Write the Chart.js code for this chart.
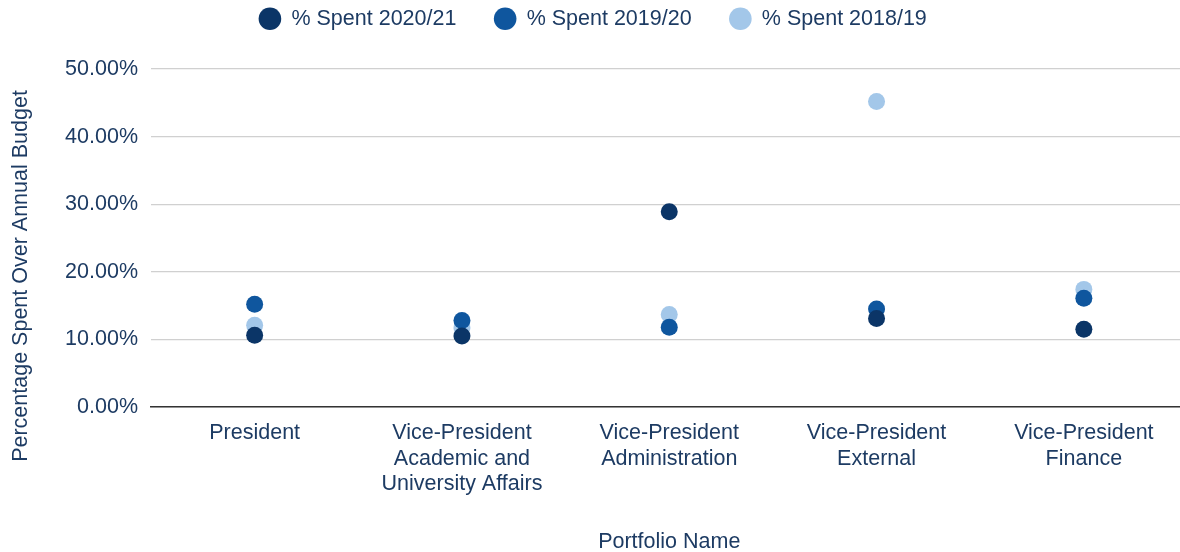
<!DOCTYPE html>
<html>
<head>
<meta charset="utf-8">
<script src="https://cdn.jsdelivr.net/npm/chart.js@4/dist/chart.umd.min.js"></script>
<style>
  html, body { margin: 0; padding: 0; background: #fff; overflow: hidden; }
  #wrap { width: 1196px; height: 552px; }
</style>
</head>
<body>
<div id="wrap"><canvas id="chart"></canvas></div>
<script>
const portfolios = [
  'President',
  ['Vice-President', 'Academic and', 'University Affairs'],
  ['Vice-President', 'Administration'],
  ['Vice-President', 'External'],
  ['Vice-President', 'Finance']
];
const spent2021 = [10.6, 10.5, 28.9, 13.1, 11.5];
const spent1920 = [15.2, 12.8, 11.8, 14.5, 16.1];
const spent1819 = [12.1, 11.7, 13.7, 45.2, 17.4];
const yTicks = [0, 10, 20, 30, 40, 50];

const textColor = '#1d3b63';
const font = { family: '"Liberation Sans", Arial, sans-serif', size: 21.5 };

function series(label, data, color) {
  return {
    label: label,
    data: data,
    showLine: false,
    backgroundColor: color,
    borderColor: color,
    pointRadius: 8.5,
    pointHoverRadius: 8.5,
    pointBorderWidth: 0
  };
}

// legend sits higher than its box so the plot keeps its own top edge;
// the y title is pushed a little below the middle of the axis
const layoutTweak = {
  id: 'layoutTweak',
  afterInit(chart) {
    const fit = chart.legend.fit;
    chart.legend.fit = function () {
      fit.call(this);
      this.height = 69;
    };
  },
  afterLayout(chart) {
    chart.legend.top -= 30;
    chart.legend.left -= 5;
    chart.legend.right -= 5;
    const y = chart.scales.y;
    if (!y._titlePatched) {
      const drawTitle = y.drawTitle;
      y.drawTitle = function () {
        const b = this.bottom;
        this.bottom = b + 76;
        drawTitle.call(this);
        this.bottom = b;
      };
      y._titlePatched = true;
    }
  }
};

new Chart(document.getElementById('chart'), {
  type: 'line',
  data: {
    labels: portfolios,
    datasets: [
      series('% Spent 2020/21', spent2021, '#0b3567'),
      series('% Spent 2019/20', spent1920, '#0f569e'),
      series('% Spent 2018/19', spent1819, '#a3c7e9')
    ]
  },
  plugins: [layoutTweak],
  options: {
    responsive: true,
    maintainAspectRatio: false,
    animation: false,
    layout: { padding: { left: 0, right: 0, top: 0, bottom: 0 } },
    plugins: {
      legend: {
        position: 'top',
        labels: {
          usePointStyle: true,
          pointStyle: 'circle',
          boxWidth: 22,
          boxHeight: 16,
          padding: 38,
          color: textColor,
          font: font
        }
      },
      tooltip: { enabled: false }
    },
    scales: {
      x: {
        offset: true,
        afterFit: s => { s.height = 145; },
        grid: { display: false },
        border: { color: '#333333', width: 1.5 },
        ticks: { color: textColor, font: font, padding: 5, maxRotation: 0 },
        title: { display: true, text: 'Portfolio Name', color: textColor, font: font, padding: { top: 0, bottom: -3 } }
      },
      y: {
        min: 0,
        max: 50,
        afterBuildTicks: axis => { axis.ticks = yTicks.map(v => ({ value: v })); },
        afterFit: s => { s.width = 151; },
        grid: { color: '#d0d0d0', lineWidth: 1.3, drawTicks: false },
        border: { display: false },
        ticks: {
          color: textColor,
          font: font,
          padding: 13,
          callback: v => v.toFixed(2) + '%'
        },
        title: { display: true, text: 'Percentage Spent Over Annual Budget', color: textColor, font: font, padding: { top: 8, bottom: 0 } }
      }
    }
  }
});
</script>
</body>
</html>
